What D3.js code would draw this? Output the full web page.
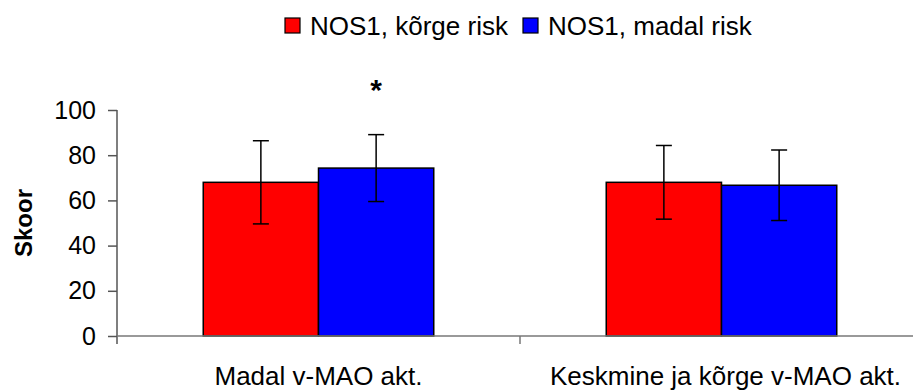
<!DOCTYPE html>
<html><head><meta charset="utf-8">
<script src="https://cdn.jsdelivr.net/npm/d3@7"></script>
<style>html,body{margin:0;padding:0;background:#fff;}svg{display:block;font-family:"Liberation Sans",Arial,sans-serif;}</style>
</head><body>
<svg id="chart" width="914" height="392"></svg>
<script>
const categories = ["Madal v-MAO akt.", "Keskmine ja kõrge v-MAO akt."];
const seriesNames = ["NOS1, kõrge risk", "NOS1, madal risk"];
const seriesColors = ["#ff0000", "#0000ff"];
const highRisk = [68, 68];
const highRiskErr = [18.4, 16.3];
const lowRisk = [74.3, 66.7];
const lowRiskErr = [14.8, 15.6];
const yTicks = [0, 20, 40, 60, 80, 100];
const yLabel = "Skoor";
const significance = ["*", ""];

const series = [
  {name: seriesNames[0], values: highRisk, errs: highRiskErr, color: seriesColors[0]},
  {name: seriesNames[1], values: lowRisk, errs: lowRiskErr, color: seriesColors[1]}
];

const svg = d3.select("#chart");
const x0 = d3.scaleBand().domain(categories).range([117, 923]).padding(0);
const groupFrac = 0.572;
const x1 = d3.scaleBand().domain(d3.range(series.length))
  .range([0, x0.bandwidth() * groupFrac]).padding(0);
const groupOffset = x0.bandwidth() * (1 - groupFrac) / 2;
const y = d3.scaleLinear().domain([0, 100]).range([336, 110]);

// y axis
const yAxis = d3.axisLeft(y).tickValues(yTicks).tickSize(9).tickPadding(12);
const gy = svg.append("g").attr("transform", "translate(117,0)").call(yAxis);
gy.select(".domain").remove();
gy.selectAll(".tick line").attr("stroke", "#555").attr("stroke-width", 1.5);
gy.selectAll(".tick text").attr("font-size", 25).attr("fill", "#000")
  .attr("font-family", "Liberation Sans, Arial, sans-serif");
svg.append("line").attr("x1", 117).attr("x2", 117).attr("y1", y(100)).attr("y2", 344)
  .attr("stroke", "#555").attr("stroke-width", 1.5);

// bars
const groups = svg.append("g").selectAll("g").data(categories).join("g")
  .attr("transform", d => `translate(${x0(d) + groupOffset},0)`);
series.forEach((s, si) => {
  groups.append("rect")
    .attr("x", (d, i) => x1(si))
    .attr("y", (d, i) => y(s.values[i]))
    .attr("width", x1.bandwidth())
    .attr("height", (d, i) => y(0) - y(s.values[i]))
    .attr("fill", s.color).attr("stroke", "#000").attr("stroke-width", 1.5);
});

// x axis line and ticks
svg.append("line").attr("x1", 117).attr("x2", 913).attr("y1", y(0)).attr("y2", y(0))
  .attr("stroke", "#777").attr("stroke-width", 1.5);
categories.slice(1).forEach(c => {
  svg.append("line").attr("x1", x0(c)).attr("x2", x0(c)).attr("y1", y(0)).attr("y2", 344)
    .attr("stroke", "#777").attr("stroke-width", 1.5);
});

// error bars
series.forEach((s, si) => {
  groups.each(function(d, i) {
    const g = d3.select(this);
    const cx = x1(si) + x1.bandwidth() / 2;
    const top = y(s.values[i] + s.errs[i]);
    const bot = y(s.values[i] - s.errs[i]);
    g.append("line").attr("x1", cx).attr("x2", cx).attr("y1", top).attr("y2", bot)
      .attr("stroke", "#000").attr("stroke-width", 1.5);
    [top, bot].forEach(yy => g.append("line").attr("x1", cx - 8).attr("x2", cx + 8)
      .attr("y1", yy).attr("y2", yy).attr("stroke", "#000").attr("stroke-width", 1.5));
  });
});

// significance marks
groups.each(function(d, i) {
  if (!significance[i]) return;
  const cx = x1(1) + x1.bandwidth() / 2;
  d3.select(this).append("text").attr("x", cx)
    .attr("y", y(lowRisk[i] + lowRiskErr[i]) - 35)
    .attr("text-anchor", "middle").attr("font-size", 30).attr("font-weight", "bold")
    .text(significance[i]);
});

// x labels
svg.append("g").selectAll("text").data(categories).join("text")
  .attr("x", (d, i) => x0(d) + x0.bandwidth() / 2 + (i === 1 ? 4 : 0))
  .attr("y", 385).attr("text-anchor", "middle").attr("font-size", 26).attr("fill", "#000")
  .text(d => d);

// y label
svg.append("text").attr("transform", "translate(32,223) rotate(-90)")
  .attr("text-anchor", "middle").attr("font-size", 24).attr("font-weight", "bold")
  .text(yLabel);

// legend
const legX = [285, 523];
series.forEach((s, si) => {
  svg.append("rect").attr("x", legX[si]).attr("y", 18).attr("width", 15).attr("height", 15)
    .attr("fill", s.color).attr("stroke", "#000").attr("stroke-width", 1.2);
  svg.append("text").attr("x", legX[si] + 25).attr("y", 35).attr("font-size", 26)
    .attr("fill", "#000").text(s.name);
});
</script>
</body></html>
